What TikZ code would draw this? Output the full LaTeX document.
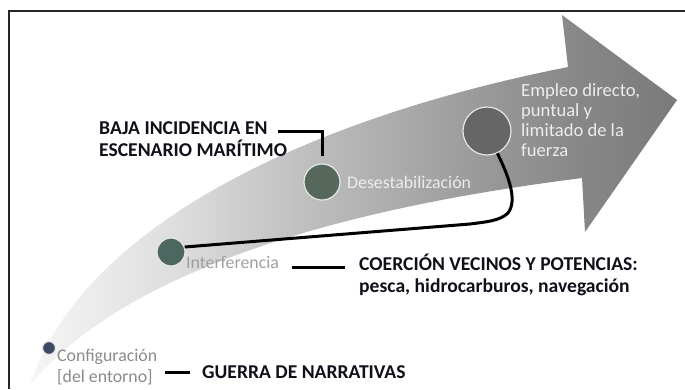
\documentclass[tikz,border=0pt]{standalone}
\usepackage{fontspec}
\setmainfont{Carlito}
\definecolor{shA}{HTML}{F6F6F6}
\definecolor{shB}{HTML}{DEDEDE}
\definecolor{shC}{HTML}{BBBBBB}
\definecolor{shD}{HTML}{989898}
\definecolor{shE}{HTML}{878787}
\definecolor{shF}{HTML}{7A7A7A}
\definecolor{cfgC}{HTML}{3C4A66}
\definecolor{intC}{HTML}{4C6660}
\definecolor{desC}{HTML}{56675B}
\definecolor{fzC}{HTML}{666666}
\definecolor{ringC}{HTML}{E6E6E6}
\definecolor{txtDark}{HTML}{8A8A8A}
\definecolor{txtMid}{HTML}{A0A0A0}
\definecolor{txtLight}{HTML}{ECECEC}
\definecolor{labC}{HTML}{10101A}
\pgfdeclarehorizontalshading{bandshade}{100bp}{color(0bp)=(shA); color(25bp)=(shA); color(36bp)=(shB); color(47.5bp)=(shC); color(60.5bp)=(shD); color(67.5bp)=(shE); color(75bp)=(shF); color(100bp)=(shF)}
\tikzset{
  graylab/.style={font=\fontsize{17.8}{21}\selectfont, inner sep=0pt, anchor=west, align=left},
  blacklab/.style={font=\bfseries\fontsize{19.6}{22}\selectfont, text=labC, inner sep=0pt, anchor=west, align=left},
  conn/.style={line width=3pt, draw=black},
  stage/.style={circle, draw=ringC, line width=1.2pt, inner sep=0pt}
}
\begin{document}
\begin{tikzpicture}[x=1pt,y=-1pt]
\useasboundingbox (0,0) rectangle (685,389);
% frame
\draw[line width=1.5pt, black!85] (9,389) -- (9,11) -- (685,11);
% band arrow
\shade[shading=bandshade] (30,385) .. controls (80,230) and (300,120) .. (568,67) -- (562,15) -- (677,100) -- (585,232) -- (582,178) .. controls (450,195) and (150,240) .. (30,385) -- cycle;
% stages
\node[stage, fill=cfgC, minimum size=13pt] (cfg) at (49,348) {};
\node[stage, fill=intC, minimum size=28pt] (int) at (171,252) {};
\node[stage, fill=desC, minimum size=36pt] (des) at (322,182) {};
\node[stage, fill=fzC, minimum size=48pt] (fz) at (487,131) {};
% stage labels
\node[graylab, text=txtDark] (cfglab) at (57,367) {Configuración\\{[del entorno]}};
\node[graylab, text=txtMid] (intlab) at (186,262) {Interferencia};
\node[graylab, text=txtLight] (deslab) at (347,182) {Desestabilización};
\node[graylab, text=txtLight, font=\fontsize{18.6}{20}\selectfont] (fzlab) at (521,120) {Empleo directo,\\puntual y\\limitado de la\\fuerza};
% black labels
\node[blacklab] (baja) at (99,139) {BAJA INCIDENCIA EN\\ESCENARIO MARÍTIMO};
\node[blacklab] (coer) at (359,275) {COERCIÓN VECINOS Y POTENCIAS:\\pesca, hidrocarburos, navegación};
\node[blacklab] (guerra) at (202,372) {GUERRA DE NARRATIVAS};
% connectors
\coordinate (bajaA) at (278,131);
\coordinate (bajaB) at (322,156);
\draw[conn] (bajaA) -| (bajaB);
\coordinate (intA) at (292,267);
\coordinate (intB) at (345,267);
\draw[conn] (intA) -- (intB);
\coordinate (gA) at (165,372);
\coordinate (gB) at (190,372);
\draw[conn] (gA) -- (gB);
\draw[conn] (fz.-65) .. controls (508,175) and (518,200) .. (508,213) .. controls (500,221) and (485,222) .. (470,224) -- (int.20);
\end{tikzpicture}
\end{document}
